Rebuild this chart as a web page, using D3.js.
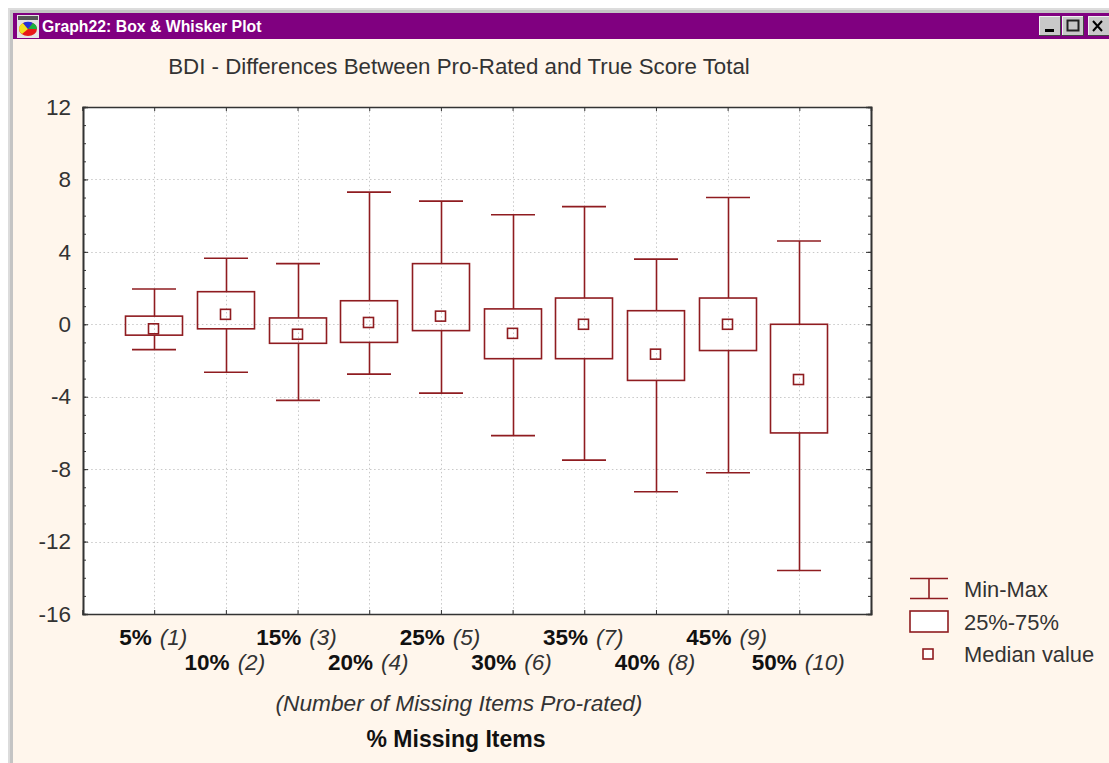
<!DOCTYPE html>
<html>
<head>
<meta charset="utf-8">
<script src="https://cdn.jsdelivr.net/npm/d3@7"></script>
<style>
  html, body { margin: 0; padding: 0; background: #fff; }
  svg { display: block; font-family: "Liberation Sans", Arial, sans-serif; }
</style>
</head>
<body>
<div id="chart"></div>
<script>
const pctLabels = ["5%", "10%", "15%", "20%", "25%", "30%", "35%", "40%", "45%", "50%"];
const itemCounts = ["(1)", "(2)", "(3)", "(4)", "(5)", "(6)", "(7)", "(8)", "(9)", "(10)"];
const minValues = [-1.4, -2.65, -4.2, -2.75, -3.8, -6.15, -7.5, -9.25, -8.2, -13.6];
const q1Values = [-0.6, -0.25, -1.05, -1.0, -0.35, -1.9, -1.9, -3.1, -1.45, -6.0];
const medianValues = [-0.25, 0.55, -0.55, 0.1, 0.45, -0.5, 0.0, -1.65, 0.0, -3.05];
const q3Values = [0.45, 1.8, 0.35, 1.3, 3.35, 0.85, 1.45, 0.75, 1.45, 0.0];
const maxValues = [1.95, 3.65, 3.35, 7.3, 6.8, 6.05, 6.5, 3.6, 7.0, 4.6];
const yTicks = [-16, -12, -8, -4, 0, 4, 8, 12];
const yMinorTicks = d3.range(-16, 13);

const W = 1109, H = 763;
const plot = { left: 83, right: 871, top: 107, bottom: 614 };
const markColor = "#8f1c20";
const bgColor = "#fff6ec";
const textColor = "#333";

const svg = d3.select("#chart").append("svg")
    .attr("width", W)
    .attr("height", H);

// window frame
svg.append("rect").attr("x", 8).attr("y", 8).attr("width", W).attr("height", H).attr("fill", "#dcdcdc");
svg.append("rect").attr("x", 10).attr("y", 10).attr("width", W).attr("height", H).attr("fill", "#c4c4c4");
svg.append("rect").attr("x", 13).attr("y", 39).attr("width", W).attr("height", H).attr("fill", bgColor);
svg.append("rect").attr("x", 13).attr("y", 13).attr("width", W).attr("height", 26).attr("fill", "#800080");

// title bar icon
const icon = svg.append("g").attr("transform", "translate(17,15)");
icon.append("rect").attr("width", 22).attr("height", 23).attr("fill", "#e4e4e4");
icon.append("rect").attr("x", 1).attr("y", 1).attr("width", 20).attr("height", 4).attr("fill", "#555");
icon.append("ellipse").attr("cx", 11).attr("cy", 14).attr("rx", 9).attr("ry", 7).attr("fill", "#e81818");
icon.append("path").attr("d", "M11 14L2 14A9 7 0 0 1 6 8Z").attr("fill", "#f0e020");
icon.append("path").attr("d", "M11 14L6 8A9 7 0 0 1 16 8Z").attr("fill", "#2030d8");
icon.append("path").attr("d", "M11 14L16 8A9 7 0 0 1 20 14Z").attr("fill", "#18b040");
icon.append("path").attr("d", "M11 14L2 14A9 7 0 0 0 5 19Z").attr("fill", "#f0e020");

svg.append("text")
    .attr("x", 42).attr("y", 32)
    .attr("fill", "#fff")
    .attr("font-size", 15.8)
    .attr("font-weight", "bold")
    .text("Graph22: Box & Whisker Plot");

// window buttons
const btnX = [1039, 1062, 1088];
btnX.forEach(bx => {
  svg.append("rect").attr("x", bx).attr("y", 16).attr("width", 21).attr("height", 19).attr("fill", "#c8c8c8");
  svg.append("path").attr("d", `M${bx + 0.5} 35V16.5H${bx + 21}`).attr("fill", "none").attr("stroke", "#f0f0f0");
  svg.append("path").attr("d", `M${bx} 35.5H${bx + 21.5}V16`).attr("fill", "none").attr("stroke", "#444");
});
svg.append("rect").attr("x", 1045).attr("y", 29).attr("width", 9).attr("height", 3).attr("fill", "#000");
svg.append("rect").attr("x", 1067.5).attr("y", 20.5).attr("width", 11).attr("height", 10)
    .attr("fill", "none").attr("stroke", "#222").attr("stroke-width", 2);
svg.append("path").attr("d", "M1093 21L1102 31M1102 21L1093 31").attr("stroke", "#000").attr("stroke-width", 2);

const x = d3.scalePoint()
    .domain(pctLabels)
    .range([plot.left - 0.5, plot.right])
    .padding(1);

const y = d3.scaleLinear()
    .domain([-16, 12])
    .range([plot.bottom, plot.top]);

// plot area
svg.append("rect")
    .attr("x", plot.left).attr("y", plot.top)
    .attr("width", plot.right - plot.left).attr("height", plot.bottom - plot.top)
    .attr("fill", "#fff");

// dotted grid
svg.append("g").selectAll("line")
    .data(yTicks.slice(1, -1))
    .join("line")
    .attr("x1", plot.left).attr("x2", plot.right)
    .attr("y1", d => Math.round(y(d)) + 0.5).attr("y2", d => Math.round(y(d)) + 0.5)
    .attr("stroke", "#c8c8c8").attr("stroke-dasharray", "1.5,2.6");

svg.append("g").selectAll("line")
    .data(pctLabels)
    .join("line")
    .attr("x1", d => Math.round(x(d)) + 0.5).attr("x2", d => Math.round(x(d)) + 0.5)
    .attr("y1", plot.top).attr("y2", plot.bottom)
    .attr("stroke", "#c8c8c8").attr("stroke-dasharray", "1.5,2.6");

// axes: ticks point into the plot
const axisLeft = svg.append("g")
    .attr("transform", `translate(${plot.left},0)`)
    .call(d3.axisLeft(y).tickValues(yTicks).tickSize(0).tickPadding(12).tickFormat(d3.format("d")));
axisLeft.select(".domain").remove();
axisLeft.selectAll("text")
    .attr("font-family", "'Liberation Sans', Arial, sans-serif")
    .attr("font-size", 22.5)
    .attr("fill", textColor)
    .text(d => String(d));

const axisColor = "#333";
[
  d3.axisLeft(y).tickValues(yMinorTicks).tickSize(-3),
  d3.axisLeft(y).tickValues(yTicks).tickSize(-5)
].forEach(a => {
  const g = svg.append("g").attr("transform", `translate(${plot.left},0)`).call(a.tickFormat(""));
  g.select(".domain").attr("stroke", axisColor).attr("stroke-width", 1.6);
  g.selectAll("line").attr("stroke", axisColor);
});
[
  d3.axisRight(y).tickValues(yMinorTicks).tickSize(-3),
  d3.axisRight(y).tickValues(yTicks).tickSize(-5)
].forEach(a => {
  const g = svg.append("g").attr("transform", `translate(${plot.right},0)`).call(a.tickFormat(""));
  g.select(".domain").attr("stroke", axisColor).attr("stroke-width", 1.6);
  g.selectAll("line").attr("stroke", axisColor);
});
[
  ["axisBottom", plot.bottom],
  ["axisTop", plot.top]
].forEach(([fn, pos]) => {
  const g = svg.append("g").attr("transform", `translate(0,${pos})`)
      .call(d3[fn](x).tickSize(-4).tickFormat(""));
  g.select(".domain").attr("stroke", axisColor).attr("stroke-width", 1.6);
  g.selectAll("line").attr("stroke", axisColor);
});

// boxes
const capHalf = 22, boxHalf = 28.5, medHalf = 5;
const rows = pctLabels.map((p, i) => ({
  p, min: minValues[i], q1: q1Values[i], med: medianValues[i], q3: q3Values[i], max: maxValues[i]
}));

const box = svg.append("g").selectAll("g")
    .data(rows)
    .join("g")
    .attr("transform", d => `translate(${Math.round(x(d.p)) + 0.5},0)`)
    .attr("fill", "none")
    .attr("stroke", markColor)
    .attr("stroke-width", 1.6);

box.append("line").attr("y1", d => y(d.max)).attr("y2", d => y(d.q3));
box.append("line").attr("y1", d => y(d.q1)).attr("y2", d => y(d.min));
box.append("line").attr("x1", -capHalf - 0.5).attr("x2", capHalf - 0.5).attr("y1", d => y(d.max)).attr("y2", d => y(d.max));
box.append("line").attr("x1", -capHalf - 0.5).attr("x2", capHalf - 0.5).attr("y1", d => y(d.min)).attr("y2", d => y(d.min));
box.append("rect")
    .attr("x", -boxHalf - 0.5).attr("width", boxHalf * 2)
    .attr("y", d => y(d.q3)).attr("height", d => y(d.q1) - y(d.q3));
box.append("rect")
    .attr("x", -medHalf - 1).attr("width", medHalf * 2)
    .attr("y", d => y(d.med) - medHalf).attr("height", medHalf * 2);

// category labels, staggered on two rows
const labels = svg.append("g").selectAll("text")
    .data(pctLabels)
    .join("text")
    .attr("x", d => x(d) - 1)
    .attr("y", (d, i) => i % 2 === 0 ? 645 : 670)
    .attr("text-anchor", "middle")
    .attr("font-size", 22.5)
    .attr("fill", "#111");
labels.append("tspan").attr("font-weight", "bold").text(d => d);
labels.append("tspan").attr("font-style", "italic").attr("fill", textColor).attr("dx", 8).text((d, i) => itemCounts[i]);

svg.append("text")
    .attr("x", 459).attr("y", 711)
    .attr("text-anchor", "middle")
    .attr("font-size", 22.7).attr("font-style", "italic").attr("fill", textColor)
    .text("(Number of Missing Items Pro-rated)");

svg.append("text")
    .attr("x", 456).attr("y", 747)
    .attr("text-anchor", "middle")
    .attr("font-size", 23).attr("font-weight", "bold").attr("fill", "#111")
    .text("% Missing Items");

svg.append("text")
    .attr("x", 459).attr("y", 74)
    .attr("text-anchor", "middle")
    .attr("font-size", 22.3).attr("fill", textColor)
    .text("BDI - Differences Between Pro-Rated and True Score Total");

// legend
const legend = svg.append("g").attr("fill", "none").attr("stroke", markColor).attr("stroke-width", 1.6);
legend.append("path").attr("d", "M910 578.5H948M929 578.5V598.5M910 598.5H948");
legend.append("rect").attr("x", 910).attr("y", 611).attr("width", 38).attr("height", 21).attr("fill", "#fff");
legend.append("rect").attr("x", 923).attr("y", 649).attr("width", 10).attr("height", 10).attr("fill", "#fff");
svg.append("g").selectAll("text")
    .data(["Min-Max", "25%-75%", "Median value"])
    .join("text")
    .attr("x", 964)
    .attr("y", (d, i) => 597 + i * 32.5)
    .attr("font-size", 21.9)
    .attr("fill", textColor)
    .text(d => d);
</script>
</body>
</html>
